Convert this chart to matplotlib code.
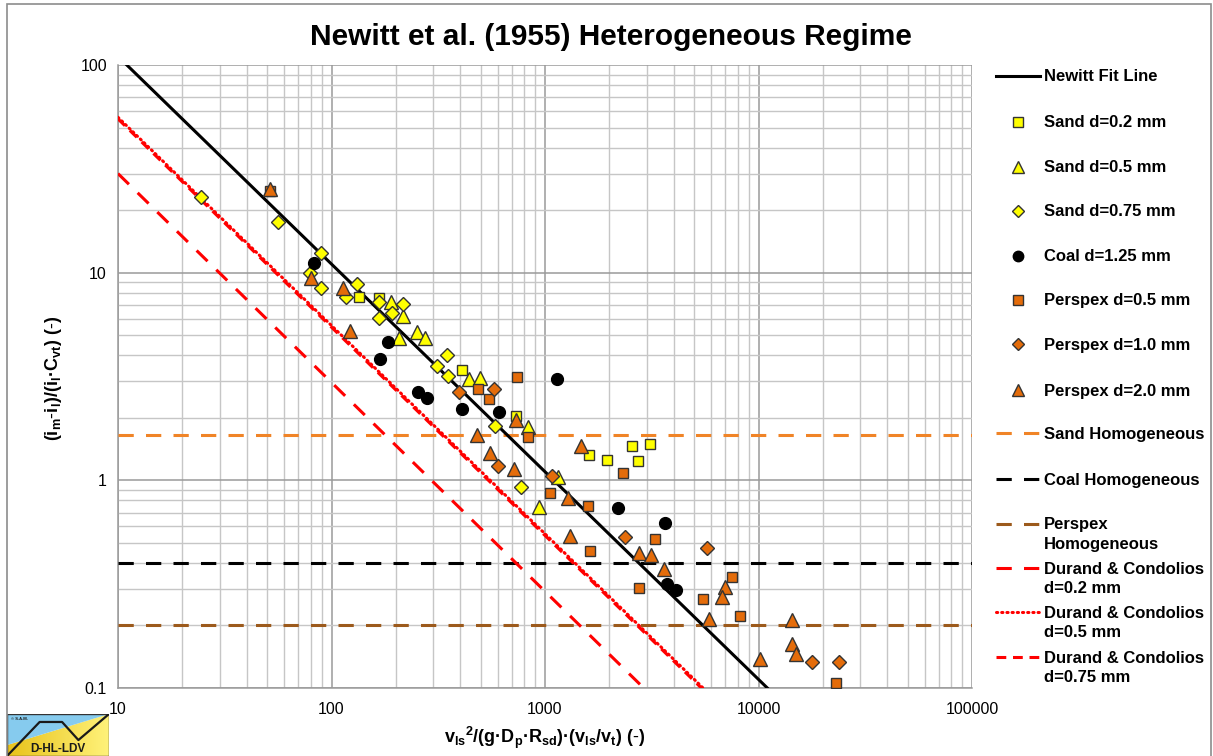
import numpy as np
import matplotlib
matplotlib.use("Agg")
import matplotlib.pyplot as plt
from matplotlib.lines import Line2D
from matplotlib.patches import Polygon, Rectangle
from matplotlib.ticker import LogLocator, NullFormatter, FixedLocator, FixedFormatter

plt.rcParams['font.family'] = ['Liberation Sans', 'DejaVu Sans']
plt.rcParams['mathtext.fontset'] = 'custom'
plt.rcParams['mathtext.rm'] = 'Liberation Sans'
plt.rcParams['mathtext.bf'] = 'Liberation Sans:bold'
plt.rcParams['mathtext.it'] = 'Liberation Sans:italic'

# ---------------- data ----------------
sand02_x = [135, 167, 410, 729, 1607, 1958, 2556, 2718, 3113]
sand02_y = [7.66, 7.58, 3.40, 2.03, 1.33, 1.25, 1.47, 1.24, 1.50]

sand05_x = [189, 216, 208, 251, 274, 441, 496, 835, 1154, 940]
sand05_y = [7.25, 6.19, 4.85, 5.20, 4.86, 3.08, 3.12, 1.81, 1.04, 0.747]

sand075_x = [24.5, 56.0, 89.0, 79.3, 89.0, 131, 117, 167.5, 191, 217, 167.5, 349, 311, 352, 583, 770]
sand075_y = [23.2, 17.5, 12.4, 9.93, 8.41, 8.79, 7.66, 7.25, 6.42, 7.05, 6.07, 4.02, 3.55, 3.19, 1.83, 0.933]

coal_x = [83.1, 184.5, 168.7, 255, 279, 410, 611, 1134, 2198, 3648, 3715, 4095]
coal_y = [11.1, 4.64, 3.83, 2.67, 2.50, 2.21, 2.13, 3.07, 0.736, 0.621, 0.317, 0.297]

persp05_x = [51.5, 487, 548, 742, 835, 1055, 1585, 2326, 1619, 3275, 2757, 5514, 7541, 8191, 23070]
persp05_y = [24.7, 2.75, 2.47, 3.13, 1.62, 0.867, 0.755, 1.08, 0.457, 0.522, 0.302, 0.268, 0.343, 0.221, 0.106]

persp10_x = [397, 579, 600, 1075, 2377, 5720, 17860, 23900]
persp10_y = [2.66, 2.75, 1.17, 1.05, 0.536, 0.471, 0.133, 0.133]

persp20_x = [51.5, 79.9, 112.8, 122.5, 480, 551, 714, 729, 1470, 1277, 1314, 2765, 3137, 3609, 6970, 6767, 5883, 10190, 14310, 14350, 14940]
persp20_y = [25.2, 9.40, 8.47, 5.24, 1.65, 1.35, 1.13, 1.95, 1.47, 0.826, 0.540, 0.446, 0.437, 0.375, 0.306, 0.274, 0.214, 0.138, 0.213, 0.162, 0.146]

newitt_x = [10, 11000]
newitt_y = [110, 0.1]

hom_x = [10, 100000]
sand_hom = 1.65
coal_hom = 0.40
persp_hom = 0.20

dc02_x = [10, 2900]
dc02_y = [30, 0.1]
dc05_x = [10, 5500]
dc05_y = [56, 0.1]
dc075_x = [10, 5400]
dc075_y = [55, 0.1]

xticks = [10, 100, 1000, 10000, 100000]
xtick_labels = ['10', '100', '1000', '10000', '100000']
yticks = [0.1, 1, 10, 100]
ytick_labels = ['0.1', '1', '10', '100']

# ---------------- style ----------------
W, H = 1213, 756
YEL = '#FFFF00'
ORG = '#E46C0A'
SANDH = '#F08427'
PERSH = '#9C5A1C'
RED = '#FF0000'
DOT = '\u00b7'

fig = plt.figure(figsize=(W / 100, H / 100), dpi=100)
fig.patch.set_facecolor('white')

def fx(px):
    return px / W

def fy(py):
    return 1 - py / H

ax = fig.add_axes([fx(118), fy(688), fx(972) - fx(118), fy(65) - fy(688)])
ax.set_xscale('log')
ax.set_yscale('log')
ax.set_xlim(10, 100000)
ax.set_ylim(0.1, 100)

ax.xaxis.set_major_locator(FixedLocator(xticks))
ax.xaxis.set_major_formatter(FixedFormatter(xtick_labels))
ax.yaxis.set_major_locator(FixedLocator(yticks))
ax.yaxis.set_major_formatter(FixedFormatter(ytick_labels))
ax.xaxis.set_minor_locator(LogLocator(base=10, subs=np.arange(2, 10)))
ax.yaxis.set_minor_locator(LogLocator(base=10, subs=np.arange(2, 10)))
ax.xaxis.set_minor_formatter(NullFormatter())
ax.yaxis.set_minor_formatter(NullFormatter())
ax.grid(True, which='major', color='#9a9a9a', lw=1.1)
ax.grid(True, which='minor', color='#c6c6c6', lw=1.0)
ax.set_axisbelow(True)
ax.tick_params(which='both', length=0, labelsize=11.5, colors='#000000')
ax.tick_params(axis='x', pad=10)
ax.tick_params(axis='y', pad=8)
for s in ax.spines.values():
    s.set_color('#9a9a9a')
    s.set_linewidth(1.1)
ax.spines['top'].set_visible(False)
ax.spines['right'].set_visible(False)

LW = 2.2
DOTS = (0, (0.4, 1.3))
ax.plot(hom_x, [sand_hom, sand_hom], color=SANDH, lw=LW, ls=(0, (5, 4)), zorder=3)
ax.plot(hom_x, [coal_hom, coal_hom], color='black', lw=LW, ls=(0, (5, 4)), zorder=3)
ax.plot(hom_x, [persp_hom, persp_hom], color=PERSH, lw=LW, ls=(0, (5, 4)), zorder=3)
ax.plot(dc02_x, dc02_y, color=RED, lw=LW, ls=(0, (5, 4)), zorder=3)
ax.plot(dc05_x, dc05_y, color=RED, lw=LW, ls=DOTS, dash_capstyle='round', zorder=3)
ax.plot(dc075_x, dc075_y, color=RED, lw=LW, ls=(0, (3.2, 2.2)), zorder=3)
ax.plot(newitt_x, newitt_y, color='black', lw=LW, zorder=4)

ax.plot(sand02_x, sand02_y, ls='none', marker='s', ms=7.5, mfc=YEL, mec='#333333', mew=1.0, zorder=5)
ax.plot(sand05_x, sand05_y, ls='none', marker='^', ms=10, mfc=YEL, mec='#333333', mew=1.0, zorder=5)
ax.plot(sand075_x, sand075_y, ls='none', marker='D', ms=7.5, mfc=YEL, mec='#333333', mew=1.0, zorder=5)
ax.plot(coal_x, coal_y, ls='none', marker='o', ms=8.5, mfc='black', mec='black', mew=1.0, zorder=5)
ax.plot(persp05_x, persp05_y, ls='none', marker='s', ms=7.5, mfc=ORG, mec='#333333', mew=1.0, zorder=5)
ax.plot(persp10_x, persp10_y, ls='none', marker='D', ms=7.5, mfc=ORG, mec='#333333', mew=1.0, zorder=5)
ax.plot(persp20_x, persp20_y, ls='none', marker='^', ms=10, mfc=ORG, mec='#333333', mew=1.0, zorder=6)

# title and axis labels
fig.text(fx(611), fy(37), 'Newitt et al. (1955) Heterogeneous Regime', ha='center', va='center',
         fontsize=21.5, fontweight='bold')
xlab = (r'$\mathbf{v_{ls}{}^{2}/(g' + DOT + r'D_{p}' + DOT + r'R_{sd})' + DOT +
        r'(v_{ls}/v_{t})\ (\text{-})}$')
ylab = r'$\mathbf{(i_{m}\text{-}i_{l})/(i_{l}' + DOT + r'C_{vt})\ (\text{-})}$'
fig.text(fx(545), fy(738), xlab, ha='center', va='center', fontsize=13)
fig.text(fx(53), fy(378), ylab, ha='center', va='center', fontsize=13, rotation=90)

# legend (drawn manually)
leg_items = [
    ('line', dict(color='black', lw=LW, ls='-'), 'Newitt Fit Line', 75.7),
    ('mark', dict(marker='s', mfc=YEL, mec='#333333', ms=6.5), 'Sand d=0.2 mm', 121.7),
    ('mark', dict(marker='^', mfc=YEL, mec='#333333', ms=8), 'Sand d=0.5 mm', 166.7),
    ('mark', dict(marker='D', mfc=YEL, mec='#333333', ms=6), 'Sand d=0.75 mm', 210.7),
    ('mark', dict(marker='o', mfc='black', mec='black', ms=7.5), 'Coal d=1.25 mm', 255.7),
    ('mark', dict(marker='s', mfc=ORG, mec='#333333', ms=6.5), 'Perspex d=0.5 mm', 300),
    ('mark', dict(marker='D', mfc=ORG, mec='#333333', ms=6), 'Perspex d=1.0 mm', 344.3),
    ('mark', dict(marker='^', mfc=ORG, mec='#333333', ms=8), 'Perspex d=2.0 mm', 390),
    ('line', dict(color=SANDH, lw=LW, ls=(0, (5, 4))), 'Sand Homogeneous', 433.3),
    ('line', dict(color='black', lw=LW, ls=(0, (5, 4))), 'Coal Homogeneous', 479),
    ('line', dict(color=PERSH, lw=LW, ls=(0, (5, 4))), 'Perspex\nHomogeneous', 524),
    ('line', dict(color=RED, lw=LW, ls=(0, (5, 4))), 'Durand & Condolios\nd=0.2 mm', 568.3),
    ('line', dict(color=RED, lw=LW, ls=DOTS, dash_capstyle='round'), 'Durand & Condolios\nd=0.5 mm', 612.3),
    ('line', dict(color=RED, lw=LW, ls=(0, (3.2, 2.2))), 'Durand & Condolios\nd=0.75 mm', 657.3),
]
for kind, kw, label, ypx in leg_items:
    if kind == 'line':
        fig.add_artist(Line2D([fx(996), fx(1040)], [fy(ypx), fy(ypx)], transform=fig.transFigure, **kw))
    else:
        fig.add_artist(Line2D([fx(1018)], [fy(ypx)], transform=fig.transFigure, ls='none', mew=1.0, **kw))
    fig.text(fx(1044), fy(ypx - 6.5), label, ha='left', va='top', fontsize=12, fontweight='bold',
             linespacing=1.34)

# outer border
fig.add_artist(Rectangle((fx(7), fy(H + 5)), fx(1211) - fx(7), fy(4) - fy(H + 5), transform=fig.transFigure,
                         fill=False, edgecolor='#8c8c8c', lw=1.2))

# logo
lax = fig.add_axes([fx(7), fy(756), fx(109) - fx(7), fy(714) - fy(756)])
lax.set_xlim(0, 1)
lax.set_ylim(0, 1)
lax.axis('off')
ypoly = Polygon([(0, 0), (1, 0), (1, 1), (0, 0.26)], closed=True, facecolor='none', edgecolor='none')
lax.add_patch(ypoly)
grad = np.linspace(0, 1, 256).reshape(1, -1)
im = lax.imshow(grad, extent=[0, 1, 0, 1], aspect='auto',
                cmap=matplotlib.colors.LinearSegmentedColormap.from_list('y', ['#E8C21A', '#FFF27A']))
im.set_clip_path(ypoly)
lax.add_patch(Polygon([(0, 0.26), (1, 1), (0, 1)], closed=True, facecolor='#86CBEE', edgecolor='none'))
lax.plot([0, 0.32, 0.54, 0.70, 1.0], [0, 0.81, 0.81, 0.38, 1.0], color='#1a1a1a', lw=1.6)
lax.add_patch(Rectangle((0, 0), 1, 1, fill=False, edgecolor='#333333', lw=1.0))
lax.text(0.5, 0.17, 'D-HL-LDV', ha='center', va='center', fontsize=8.5, fontweight='bold', color='#1a1a1a')
lax.text(0.04, 0.88, '\u00a9 S.A.M.', ha='left', va='center', fontsize=3, fontweight='bold', color='#1a1a1a')

fig.savefig('out.png', dpi=100, facecolor='white')
